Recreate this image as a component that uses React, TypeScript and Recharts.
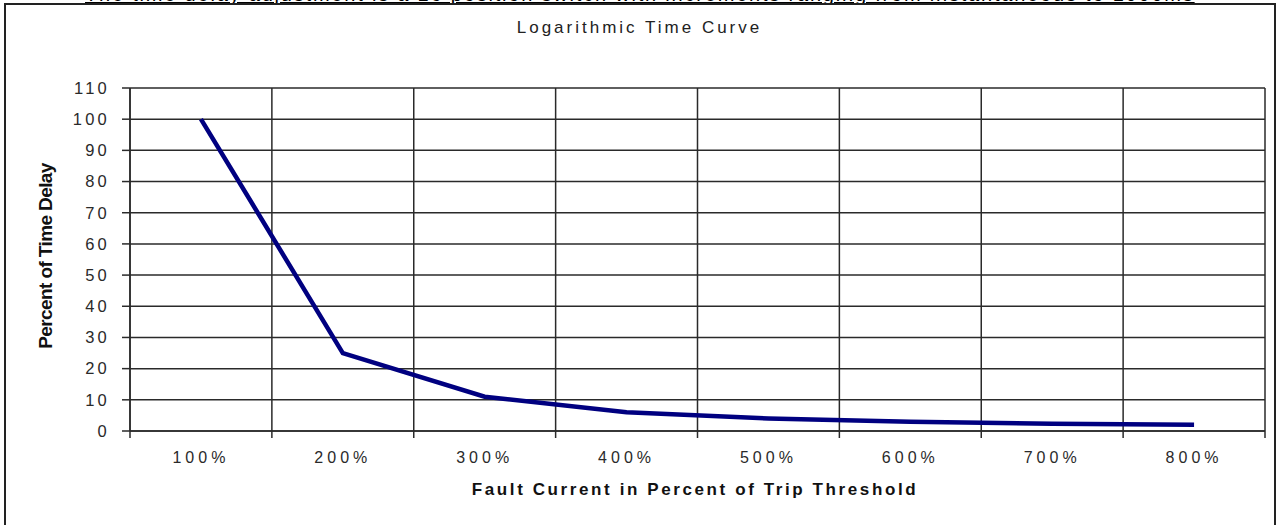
import { LineChart, Line, XAxis, YAxis, CartesianGrid } from 'recharts';

// fault current categories and the delay
const categories = ['100%', '200%', '300%', '400%', '500%', '600%', '700%', '800%'];
const delayPercent = [100, 25, 11, 6, 4, 3, 2.3, 2];
const yTicks = [0, 10, 20, 30, 40, 50, 60, 70, 80, 90, 100, 110];

const data = categories.map((c, i) => ({ x: i + 1, label: c, value: delayPercent[i] }));
const centerTicks = categories.map((_, i) => i + 1);
const boundaryTicks = [0.5, ...categories.map((_, i) => i + 1.5)];

const font = 'Arial, "Liberation Sans", Helvetica, sans-serif';

// vertical grid lines sit on the category boundaries, not the centres
const boundaryLines = ({ xAxis, offset }: any) => {
    if (xAxis && typeof xAxis.scale === 'function') {
        return boundaryTicks.map((t) => xAxis.scale(t));
    }
    return boundaryTicks.map((t) => offset.left + ((t - 0.5) / categories.length) * offset.width);
};

const NoLabel = () => <g />;

export default function App() {
    return (
        <div style={{ position: 'fixed', left: 0, top: 0, width: 1279, height: 525, background: '#fff', overflow: 'hidden', fontFamily: font }}>
            <div style={{ position: 'absolute', left: 85, top: -16, fontSize: 20, lineHeight: '20px', letterSpacing: 1.8, color: '#000', whiteSpace: 'nowrap', textDecoration: 'underline' }}>
                The time delay adjustment is a 16 position switch with increments ranging from instantaneous to 1000ms
            </div>
            <div style={{ position: 'absolute', left: 4, top: 3, width: 1272, height: 540, border: '2px solid #222', boxSizing: 'border-box' }} />
            <div style={{ position: 'absolute', left: 0, top: 18, width: 1279, textAlign: 'center', fontSize: 17, letterSpacing: 3, color: '#222' }}>
                Logarithmic Time Curve
            </div>
            <div style={{ position: 'absolute', left: 46, top: 256, transform: 'translate(-50%, -50%) rotate(-90deg)', fontSize: 19, fontWeight: 'bold', letterSpacing: -0.6, whiteSpace: 'nowrap', color: '#111' }}>
                Percent of Time Delay
            </div>
            <div style={{ position: 'absolute', left: 695, top: 480, transform: 'translateX(-50%)', fontSize: 17, fontWeight: 'bold', letterSpacing: 2.6, whiteSpace: 'nowrap', color: '#111' }}>
                Fault Current in Percent of Trip Threshold
            </div>
            <div style={{ position: 'absolute', left: 0, top: 0 }}>
                <LineChart width={1279} height={525} data={data} margin={{ top: 88, right: 14, bottom: 45, left: 0 }}>
                    <CartesianGrid stroke="#2a2a2a" strokeWidth={1.5} verticalCoordinatesGenerator={boundaryLines} />
                    <XAxis
                        xAxisId="bnd"
                        type="number"
                        dataKey="x"
                        domain={[0.5, 8.5]}
                        ticks={boundaryTicks}
                        interval={0}
                        tick={<NoLabel />}
                        tickSize={7}
                        height={1}
                        stroke="#2a2a2a"
                        strokeWidth={1.5}
                    />
                    <XAxis
                        xAxisId="lbl"
                        type="number"
                        dataKey="x"
                        domain={[0.5, 8.5]}
                        ticks={centerTicks}
                        interval={0}
                        tickFormatter={(v: number) => categories[v - 1]}
                        axisLine={false}
                        tickLine={false}
                        tick={{ fontSize: 16, fill: '#2a2a2a', letterSpacing: 4 }}
                        tickMargin={14}
                        height={48}
                    />
                    <YAxis
                        type="number"
                        domain={[0, 110]}
                        ticks={yTicks}
                        width={130}
                        interval={0}
                        tickSize={8}
                        tickMargin={12}
                        stroke="#2a2a2a"
                        strokeWidth={1.5}
                        tick={{ fontSize: 16.5, fill: '#2a2a2a', letterSpacing: 3.2 }}
                    />
                    <Line
                        xAxisId="lbl"
                        type="linear"
                        dataKey="value"
                        stroke="#000080"
                        strokeWidth={4.5}
                        dot={false}
                        isAnimationActive={false}
                    />
                </LineChart>
            </div>
        </div>
    );
}
